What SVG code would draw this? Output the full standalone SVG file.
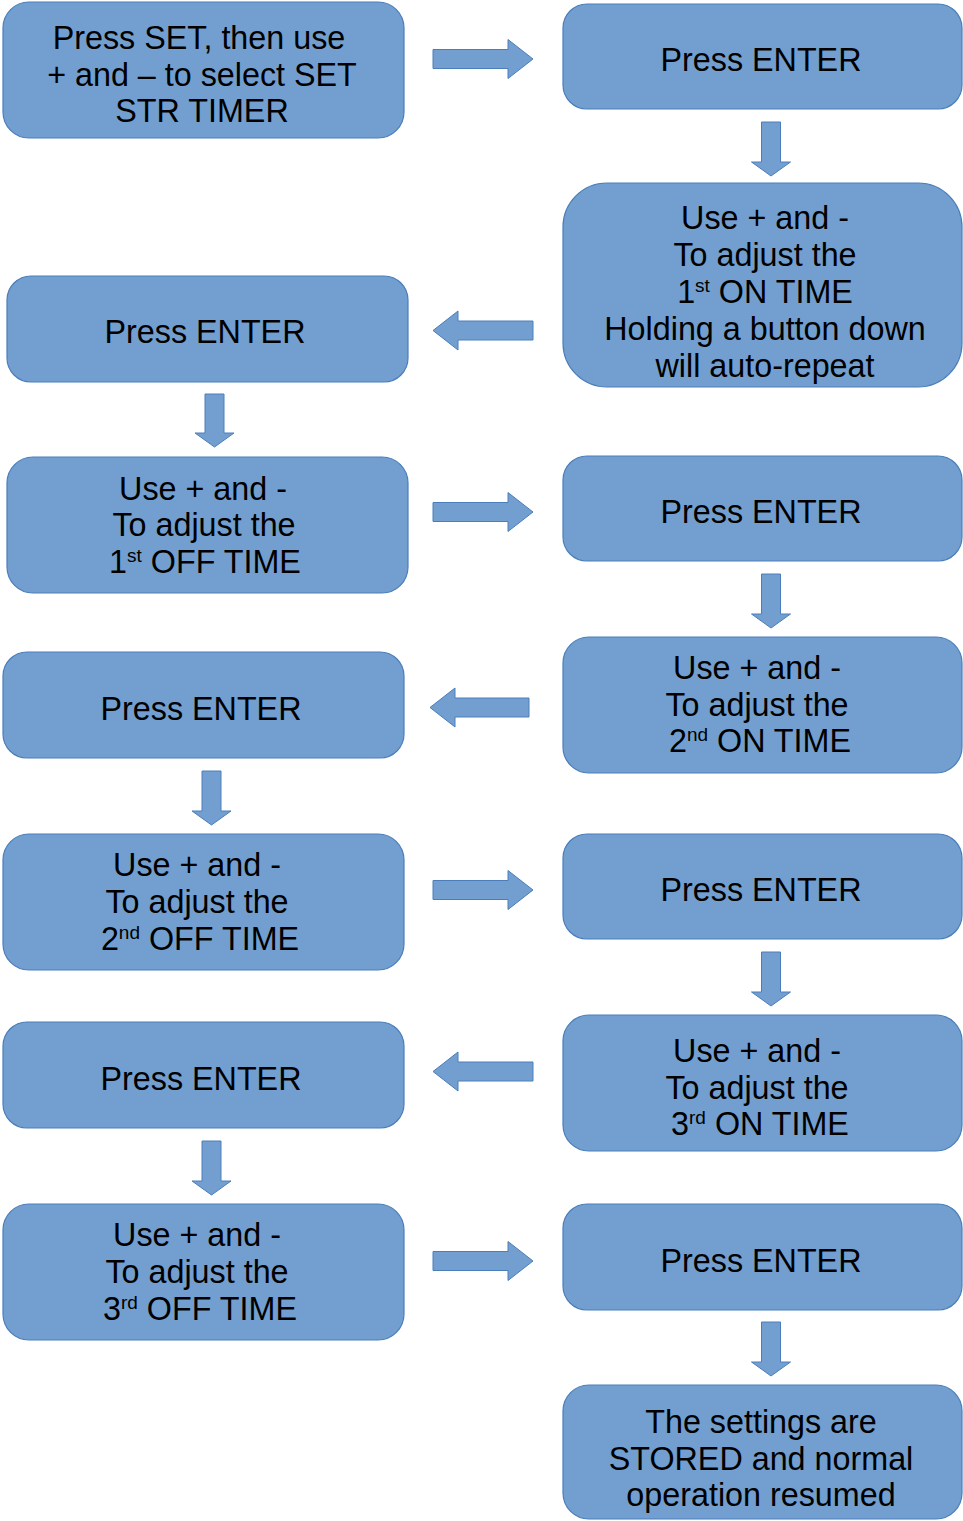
<svg xmlns="http://www.w3.org/2000/svg" width="963" height="1521" viewBox="0 0 963 1521">
<style>
.box{fill:#729fcf;stroke:#4a7ebb;stroke-width:1.2}
.arr{fill:#729fcf;stroke:#4a7ebb;stroke-width:1}
text{font-family:"Liberation Sans",Arial,sans-serif;font-size:32.3px;fill:#000;text-anchor:middle}
.sup{font-size:19px}
</style>
<rect width="963" height="1521" fill="#fff"/>
<g id="n1"><rect class="box" x="3" y="2" width="401" height="136" rx="26"/>
<text x="199" y="49">Press SET, then use</text><text x="202" y="86">+ and – to select SET</text><text x="202" y="122">STR TIMER</text></g>
<g id="n2"><rect class="box" x="563" y="4" width="399" height="105" rx="24"/><text x="761" y="71">Press ENTER</text></g>
<g id="n3"><rect class="box" x="563" y="183" width="399" height="204" rx="44"/>
<text x="765" y="229">Use + and -</text><text x="765" y="266">To adjust the</text>
<text x="765" y="303">1<tspan class="sup" dy="-11">st</tspan><tspan dy="11"> ON TIME</tspan></text>
<text x="765" y="340">Holding a button down</text><text x="765" y="377">will auto-repeat</text></g>
<g id="n4"><rect class="box" x="7" y="276" width="401" height="106" rx="24"/><text x="205" y="343">Press ENTER</text></g>
<g id="n5"><rect class="box" x="7" y="457" width="401" height="136" rx="26"/>
<text x="203" y="500">Use + and -</text><text x="204" y="536">To adjust the</text>
<text x="205" y="573">1<tspan class="sup" dy="-11">st</tspan><tspan dy="11"> OFF TIME</tspan></text></g>
<g id="n6"><rect class="box" x="563" y="456" width="399" height="105" rx="24"/><text x="761" y="523">Press ENTER</text></g>
<g id="n7"><rect class="box" x="563" y="637" width="399" height="136" rx="26"/>
<text x="757" y="679">Use + and -</text><text x="757" y="716">To adjust the</text>
<text x="760" y="752">2<tspan class="sup" dy="-11">nd</tspan><tspan dy="11"> ON TIME</tspan></text></g>
<g id="n8"><rect class="box" x="3" y="652" width="401" height="106" rx="24"/><text x="201" y="720">Press ENTER</text></g>
<g id="n9"><rect class="box" x="3" y="834" width="401" height="136" rx="26"/>
<text x="197" y="876">Use + and -</text><text x="197" y="913">To adjust the</text>
<text x="200" y="950">2<tspan class="sup" dy="-11">nd</tspan><tspan dy="11"> OFF TIME</tspan></text></g>
<g id="n10"><rect class="box" x="563" y="834" width="399" height="105" rx="24"/><text x="761" y="901">Press ENTER</text></g>
<g id="n11"><rect class="box" x="563" y="1015" width="399" height="136" rx="26"/>
<text x="757" y="1062">Use + and -</text><text x="757" y="1099">To adjust the</text>
<text x="760" y="1135">3<tspan class="sup" dy="-11">rd</tspan><tspan dy="11"> ON TIME</tspan></text></g>
<g id="n12"><rect class="box" x="3" y="1022" width="401" height="106" rx="24"/><text x="201" y="1090">Press ENTER</text></g>
<g id="n13"><rect class="box" x="3" y="1204" width="401" height="136" rx="26"/>
<text x="197" y="1246">Use + and -</text><text x="197" y="1283">To adjust the</text>
<text x="200" y="1320">3<tspan class="sup" dy="-11">rd</tspan><tspan dy="11"> OFF TIME</tspan></text></g>
<g id="n14"><rect class="box" x="563" y="1204" width="399" height="106" rx="24"/><text x="761" y="1272">Press ENTER</text></g>
<g id="n15"><rect class="box" x="563" y="1385" width="399" height="134" rx="26"/>
<text x="761" y="1433">The settings are</text><text x="761" y="1470">STORED and normal</text><text x="761" y="1506">operation resumed</text></g>
<g id="connectors">
<path class="arr" d="M433,49.5H508V39.5L533,59L508,78.5V68.5H433Z"/>
<path class="arr" d="M433,502.5H508V492.5L533,512L508,531.5V521.5H433Z"/>
<path class="arr" d="M433,880.5H508V870.5L533,890L508,909.5V899.5H433Z"/>
<path class="arr" d="M433,1251.5H508V1241.5L533,1261L508,1280.5V1270.5H433Z"/>
<path class="arr" d="M533,321H458V311L433,330.5L458,350V340H533Z"/>
<path class="arr" d="M529,698H455V688L430,707.5L455,727V717H529Z"/>
<path class="arr" d="M533,1062H458V1052L433,1071.5L458,1091V1081H533Z"/>
<path class="arr" d="M761.5,122H780.5V162H790.5L771,176L751.5,162H761.5Z"/>
<path class="arr" d="M761.5,574H780.5V614H790.5L771,628L751.5,614H761.5Z"/>
<path class="arr" d="M761.5,952H780.5V992H790.5L771,1006L751.5,992H761.5Z"/>
<path class="arr" d="M761.5,1322H780.5V1362H790.5L771,1376L751.5,1362H761.5Z"/>
<path class="arr" d="M205,394H224V433H234L214.5,447L195,433H205Z"/>
<path class="arr" d="M202,771H221V811H231L211.5,825L192,811H202Z"/>
<path class="arr" d="M202,1141H221V1181H231L211.5,1195L192,1181H202Z"/>
</g>
</svg>
